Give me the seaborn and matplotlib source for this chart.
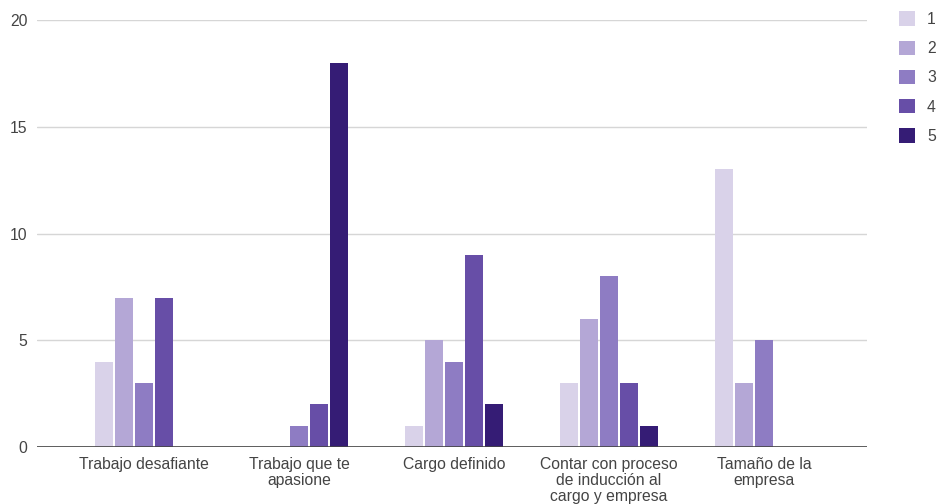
import matplotlib
matplotlib.use("Agg")
import matplotlib.pyplot as plt
from matplotlib.patches import Patch
import seaborn as sns
import pandas as pd

# Factores evaluados y respuestas por calificación (1 a 5)
categorias = [
    "Trabajo desafiante",
    "Trabajo que te\napasione",
    "Cargo definido",
    "Contar con proceso\nde inducción al\ncargo y empresa",
    "Tamaño de la\nempresa",
]
calificaciones = ["1", "2", "3", "4", "5"]
valores_1 = [4, 0, 1, 3, 13]
valores_2 = [7, 0, 5, 6, 3]
valores_3 = [3, 1, 4, 8, 5]
valores_4 = [7, 2, 9, 3, 0]
valores_5 = [0, 18, 2, 1, 0]
colores = ["#d9d2e9", "#b4a7d6", "#8e7cc3", "#674ea7", "#351c75"]
y_ticks = [0, 5, 10, 15, 20]

series = [valores_1, valores_2, valores_3, valores_4, valores_5]
filas = []
for cal, vals in zip(calificaciones, series):
    for cat, v in zip(categorias, vals):
        filas.append({"categoria": cat, "calificacion": cal, "valor": v})
df = pd.DataFrame(filas)

sns.set_style("white")
plt.rcParams["font.family"] = ["Liberation Sans", "DejaVu Sans"]
FS = 11.3

fig = plt.figure(figsize=(9.42, 5.04), dpi=100)
ax = fig.add_axes([37 / 942, 57 / 504, 830 / 942, 427 / 504])

sns.barplot(
    data=df, x="categoria", y="valor", hue="calificacion",
    order=categorias, hue_order=calificaciones,
    palette=colores, width=0.645, gap=0.1, saturation=1,
    edgecolor="none", linewidth=0, errorbar=None, legend=False, ax=ax,
)

ax.set_xlim(-0.69, 4.665)
ax.set_ylim(0, 20)
ax.set_yticks(y_ticks)
ax.set_yticklabels([str(t) for t in y_ticks])
ax.yaxis.grid(True, color="#d6d6d6", linewidth=1)
ax.set_axisbelow(True)
ax.axhline(0, color="#444444", linewidth=1.2, zorder=3)

for s in ax.spines.values():
    s.set_visible(False)

ax.set_xlabel("")
ax.set_ylabel("")
ax.tick_params(axis="both", length=0, labelsize=FS, colors="#444444")
ax.tick_params(axis="x", pad=7.5)
ax.tick_params(axis="y", pad=7)
for lbl in ax.get_xticklabels():
    lbl.set_linespacing(1.05)

handles = [Patch(facecolor=c, edgecolor="none") for c in colores]
fig.legend(
    handles, calificaciones, loc="upper left",
    bbox_to_anchor=(893 / 942, 1 - 5 / 504),
    frameon=False, fontsize=FS, labelcolor="#444444",
    handlelength=1.02, handleheight=1.02, handletextpad=0.75,
    labelspacing=0.88, borderaxespad=0, borderpad=0.4,
)

fig.savefig("out.png", dpi=100)
